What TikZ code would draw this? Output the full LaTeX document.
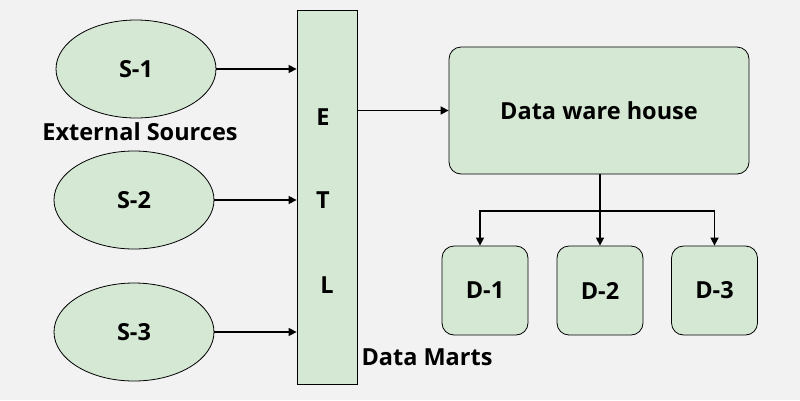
\documentclass[tikz,border=0pt]{standalone}
\usepackage{fontspec}
\setmainfont{Open Sans}
\usetikzlibrary{shapes.geometric,arrows.meta}
\definecolor{bg}{HTML}{F2F2F2}
\definecolor{gfill}{HTML}{D5E8D4}
\tikzset{
  every node/.style={font=\fontsize{23.5}{28}\selectfont\bfseries},
  src/.style={ellipse,draw,fill=gfill,minimum width=160pt,minimum height=98pt,inner sep=0pt},
  dmart/.style={rectangle,rounded corners=12pt,draw,fill=gfill,minimum width=86pt,minimum height=89pt,inner sep=0pt},
  arr/.style={-{Triangle[length=8pt,width=8pt]},line width=1.5pt},
  lbl/.style={inner sep=0pt},
}
\begin{document}
\begin{tikzpicture}[x=1pt,y=-1pt,line width=0.8pt]
\fill[bg] (0,0) rectangle (800,400);
\useasboundingbox (0,0) rectangle (800,400);
\node[src] (s1) at (136,69) {S-1};
\node[src] (s2) at (134,200) {S-2};
\node[src] (s3) at (134,332) {S-3};
\node[lbl] (ext) at (140,132) {External Sources};
\node[draw,fill=gfill,minimum width=60pt,minimum height=374pt,inner sep=0pt] (etl) at (327,197) {};
\node[lbl] (e) at (323,117) {E};
\node[lbl] (t) at (323,200) {T};
\node[lbl] (l) at (327,285) {L};
\node[lbl] (dm) at (427,357) {Data Marts};
\node[rectangle,rounded corners=12pt,draw,fill=gfill,minimum width=300pt,minimum height=127pt,inner sep=0pt] (dw) at (599,110.5) {Data ware house};
\node[dmart] (d1) at (485,290.5) {D-1};
\node[dmart] (d2) at (600,290.5) {D-2};
\node[dmart] (d3) at (714.5,290.5) {D-3};
\draw[arr] (s1.east) -- (etl.west |- s1.east);
\draw[arr] (s2.east) -- (etl.west |- s2.east);
\draw[arr] (s3.east) -- (etl.west |- s3.east);
\draw[arr] (etl.east |- dw.west) -- (dw.west);
\coordinate (bus) at (600,211);
\coordinate (t1) at (480,0);
\draw[line width=1.5pt] (dw.south -| bus) -- (bus);
\draw[arr] (bus) -- (d2.north);
\draw[arr] (bus) -| (t1 |- d1.north);
\draw[arr] (bus) -| (d3.north);
\end{tikzpicture}
\end{document}
